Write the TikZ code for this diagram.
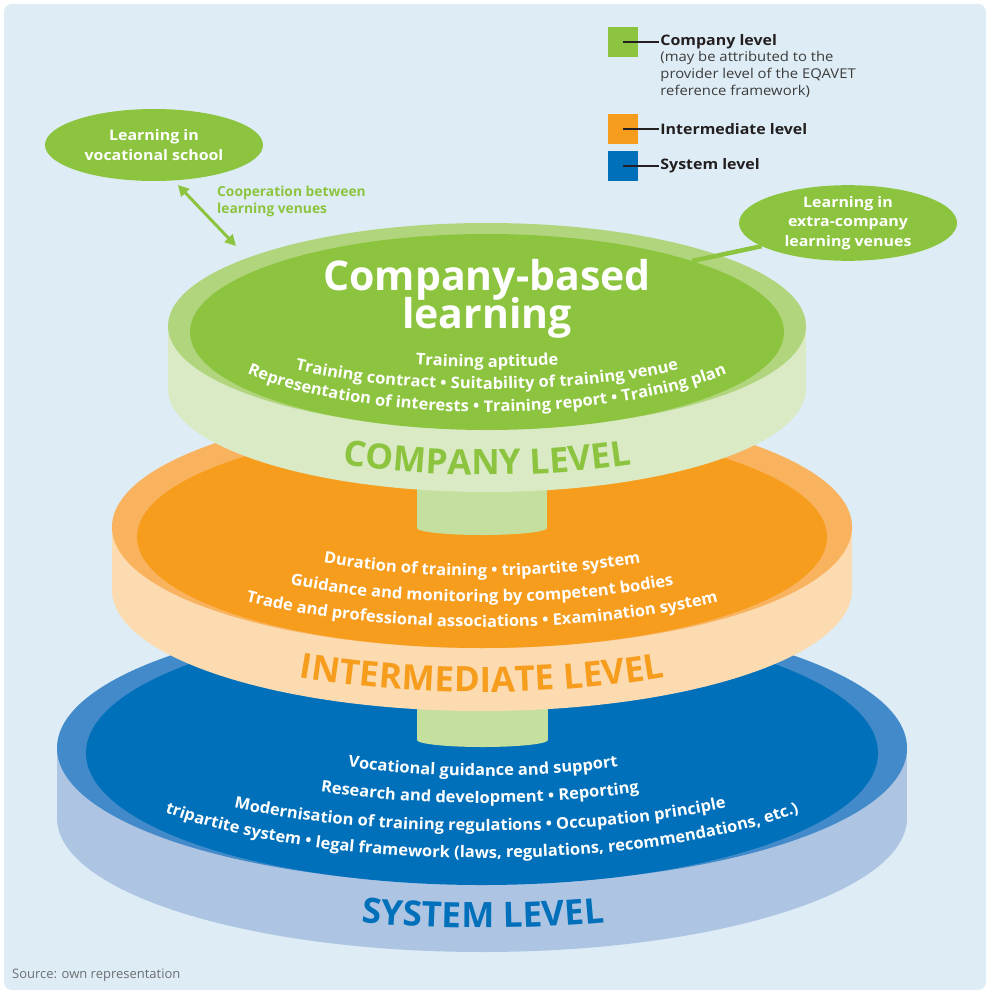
\documentclass[tikz,border=0pt]{standalone}
\usepackage{fontspec}
\setmainfont{Open Sans}
\newfontfamily\widefont[FakeStretch=1.1]{Open Sans}
\newfontfamily\discfont[FakeStretch=1.03]{Open Sans}
\usetikzlibrary{shapes, arrows.meta, positioning, decorations.text}

\definecolor{bgblue}{HTML}{DEEDF5}
\definecolor{gmain}{HTML}{8CC43F}
\definecolor{gring}{HTML}{B0D57C}
\definecolor{gside}{HTML}{D9EAC4}
\definecolor{gstem}{HTML}{C5E09E}
\definecolor{omain}{HTML}{F79D1E}
\definecolor{oring}{HTML}{F9B35E}
\definecolor{oside}{HTML}{FDDBB0}
\definecolor{bmain}{HTML}{0070BA}
\definecolor{bring}{HTML}{428AC9}
\definecolor{bside}{HTML}{ADC4E3}
\definecolor{legdark}{HTML}{231F20}
\definecolor{legsub}{HTML}{3C3C3C}
\definecolor{srcgrey}{HTML}{6D6E71}

\newcommand\disctext{\discfont\bfseries\fontsize{16}{19}\selectfont}
\newcommand\lvltext{\bfseries\fontsize{35}{38}\selectfont}

\begin{document}
\begin{tikzpicture}[x=1pt, y=-1pt,
  bubble/.style={ellipse, fill=gmain, text=white, align=center, inner sep=0pt,
    minimum width=218pt, minimum height=72pt, font=\widefont\bfseries\fontsize{14.5}{19.5}\selectfont},
  sq/.style={minimum size=30pt, inner sep=0pt},
  leg/.style={inner sep=1pt, text=legdark, font=\widefont\bfseries\fontsize{14.5}{17}\selectfont},
  legline/.style={draw=legdark, line width=1.2pt},
  curved/.style={decorate, decoration={text along path, text align=center, text color=#1}},
  ]
\useasboundingbox (0,0) rectangle (987,992);
\fill[white] (0,0) rectangle (987,992);
\fill[bgblue, rounded corners=8pt] (4,4) rectangle (986,990);

% system level
\fill[bside] (57,748) rectangle (907,818);
\fill[bside] (482,818) ellipse[x radius=425, y radius=134];
\fill[bring] (482,748) ellipse[x radius=425, y radius=136];
\fill[bmain] (482,753) ellipse[x radius=396, y radius=132];
\fill[gstem] (417,690) rectangle (548,740);
\fill[gstem] (482.5,740) ellipse[x radius=65.5, y radius=7];
\path[curved=white, decoration={text={|\disctext|Vocational guidance and support}}]
  (483,670) ++(175:330 and 106) arc[start angle=175, end angle=5, x radius=330, y radius=106];
\path[curved=white, decoration={text={|\disctext|Research and development • Reporting}}]
  (480,707) ++(175:340 and 96) arc[start angle=175, end angle=5, x radius=340, y radius=96];
\path[curved=white, decoration={text={|\disctext|Modernisation of training regulations • Occupation principle}}]
  (480,734) ++(175:380 and 97) arc[start angle=175, end angle=5, x radius=380, y radius=97];
\path[curved=white, decoration={text={|\disctext|tripartite system • legal framework (laws, regulations, recommendations, etc.)}}]
  (482,741) ++(175:400 and 117) arc[start angle=175, end angle=5, x radius=400, y radius=117];
\path[curved=bmain, decoration={text={|\lvltext|SYSTEM LEVEL}}]
  (483,792) ++(175:425 and 136) arc[start angle=175, end angle=5, x radius=425, y radius=136];

% intermediate level
\fill[oside] (112,527) rectangle (852,590);
\fill[oside] (482,590) ellipse[x radius=370, y radius=121];
\fill[oring] (482,527) ellipse[x radius=370, y radius=121];
\fill[omain] (482,537) ellipse[x radius=345, y radius=111];
\fill[gstem] (417,470) rectangle (547,528);
\fill[gstem] (482,528) ellipse[x radius=65, y radius=7];
\path[curved=white, decoration={text={|\disctext|Duration of training • tripartite system}}]
  (482,469) ++(175:330 and 107) arc[start angle=175, end angle=5, x radius=330, y radius=107];
\path[curved=white, decoration={text={|\disctext|Guidance and monitoring by competent bodies}}]
  (482,503) ++(175:340 and 99) arc[start angle=175, end angle=5, x radius=340, y radius=99];
\path[curved=white, decoration={text={|\disctext|Trade and professional associations • Examination system}}]
  (482,530) ++(175:350 and 97) arc[start angle=175, end angle=5, x radius=350, y radius=97];
\path[curved=omain, decoration={text={|\lvltext|INTERMEDIATE LEVEL}}]
  (482,581) ++(175:370 and 111) arc[start angle=175, end angle=5, x radius=370, y radius=111];

% company level
\fill[gside] (168,326) rectangle (806,389);
\fill[gside] (487,389) ellipse[x radius=319, y radius=103];
\fill[gring] (487,326) ellipse[x radius=319, y radius=103];
\fill[gmain] (487,332) ellipse[x radius=297, y radius=98];
\node[anchor=base, text=white, font=\bfseries\fontsize{41}{41}\selectfont] (cbl1) at (487,290) {Company-based};
\node[anchor=base, text=white, font=\bfseries\fontsize{41}{41}\selectfont] (cbl2) at (487,328) {learning};
\path[curved=white, decoration={text={|\disctext|Training aptitude}}]
  (487,296) ++(175:280 and 71) arc[start angle=175, end angle=5, x radius=280, y radius=71];
\path[curved=white, decoration={text={|\disctext|Training contract • Suitability of training venue}}]
  (487,318) ++(175:280 and 71) arc[start angle=175, end angle=5, x radius=280, y radius=71];
\path[curved=white, decoration={text={|\disctext|Representation of interests • Training report • Training plan}}]
  (487,316) ++(175:300 and 96) arc[start angle=175, end angle=5, x radius=300, y radius=96];
\path[curved=gmain, decoration={text={|\lvltext|COMPANY LEVEL}}]
  (487,378) ++(175:319 and 97) arc[start angle=175, end angle=5, x radius=319, y radius=97];

% learning venues
\node[bubble] (voc) at (154,145) {Learning in\\vocational school};
\node[bubble] (extra) at (848,223) {Learning in\\extra-company\\learning venues};
\coordinate (coop) at (236,246);
\coordinate (rim) at (692,261);
\draw[gmain, line width=3pt, shorten <=6pt, {Triangle[length=11pt,width=11pt]}-{Triangle[length=11pt,width=11pt]}] (voc.-61) -- (coop);
\draw[gmain, line width=4.5pt] (extra.195) -- (rim);
\node[anchor=north west, align=left, text=gmain, inner sep=0pt,
  font=\bfseries\fontsize{13.8}{17}\selectfont] (cooptxt) at (217,186) {Cooperation between\\learning venues};

% legend
\node[sq, fill=gmain] (sqc) at (623,42) {};
\node[sq, fill=omain] (sqi) at (623,129) {};
\node[sq, fill=bmain] (sqs) at (623,166) {};
\node[leg, right=21pt of sqc] (labc) {Company level};
\node[leg, right=21pt of sqi] (labi) {Intermediate level};
\node[leg, right=21pt of sqs] (labs) {System level};
\node[anchor=north west, align=left, inner sep=1pt, text=legsub,
  font=\widefont\fontsize{13.5}{17}\selectfont] (subc) at (labc.south west) {(may be attributed to the\\provider level of the EQAVET\\reference framework)};
\draw[legline] (sqc.center) -- (labc.west);
\draw[legline] (sqi.center) -- (labi.west);
\draw[legline] (sqs.center) -- (labs.west);

\node[anchor=base west, inner sep=0pt, text=srcgrey, font=\fontsize{13}{15}\selectfont] (src) at (12,978) {Source: own representation};
\end{tikzpicture}
\end{document}
